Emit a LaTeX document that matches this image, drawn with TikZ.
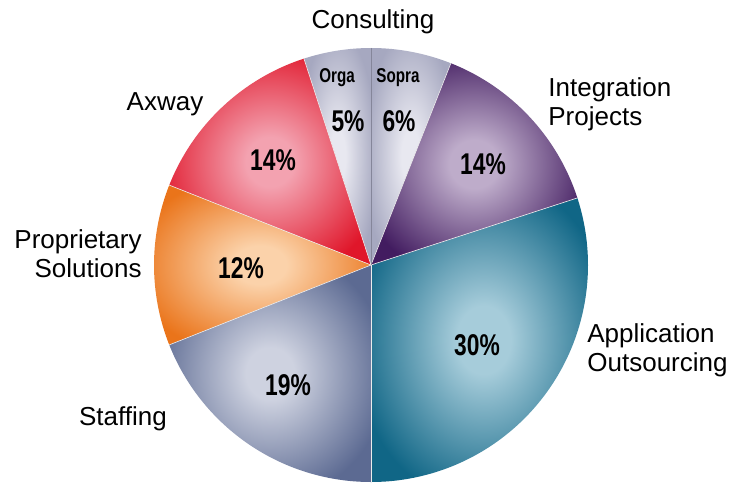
\documentclass[tikz,border=0pt]{standalone}
\usepackage[RGB]{xcolor}
\usepackage{fontspec}
\setmainfont{Liberation Sans}
\newfontfamily\pctfont[FakeStretch=0.76]{Liberation Sans}
\usepackage{tikz}
\definecolor{consEdge}{RGB}{166,168,192}
\definecolor{consMid}{RGB}{232,232,240}
\definecolor{intEdge}{RGB}{66,28,96}
\definecolor{intMid}{RGB}{190,172,202}
\definecolor{appEdge}{RGB}{16,102,134}
\definecolor{appMid}{RGB}{166,204,218}
\definecolor{stfEdge}{RGB}{92,106,146}
\definecolor{stfMid}{RGB}{206,210,224}
\definecolor{proEdge}{RGB}{234,116,26}
\definecolor{proMid}{RGB}{251,210,170}
\definecolor{axwEdge}{RGB}{224,22,42}
\definecolor{axwMid}{RGB}{243,162,176}
\colorlet{slicein}{white}
\colorlet{sliceout}{black}
\pgfdeclareradialshading[slicein,sliceout]{slicefill}{\pgfpoint{0bp}{0bp}}{%
  color(0bp)=(slicein); color(6bp)=(slicein); color(29bp)=(sliceout); color(50bp)=(sliceout)}
\newcommand{\pieradius}{217}
\newcommand{\pieslice}[4]{
    \colorlet{slicein}{#4}\colorlet{sliceout}{#3}
    \shade[shading=slicefill] (0,0) -- (#1:\pieradius)
        arc[start angle=#1, end angle=#2, radius=\pieradius] -- cycle;
}
\tikzset{
  slicename/.style={inner sep=0pt, font=\fontsize{13}{14.5}\selectfont},
  pct/.style={inner sep=0pt, font=\pctfont\bfseries\fontsize{15}{15}\selectfont},
  firm/.style={inner sep=0pt, font=\pctfont\bfseries\fontsize{10}{10}\selectfont}
}
\begin{document}
\begin{tikzpicture}[x=0.5pt,y=0.5pt]
\useasboundingbox (0,0) rectangle (733,483);
\clip (0,0) rectangle (733,483);
\begin{scope}[shift={(371,218)}]
    \foreach \a/\b/\edge/\mid in {68.4/90/consEdge/consMid, 90/108/consEdge/consMid,
        108/158.4/axwEdge/axwMid, 158.4/201.6/proEdge/proMid, 201.6/270/stfEdge/stfMid,
        270/378/appEdge/appMid, 18/68.4/intEdge/intMid}{
      \pieslice{\a}{\b}{\edge}{\mid}
    }
    \foreach \a in {18,68.4,108,158.4,201.6,270}{
      \draw[white!85!gray, line width=0.3pt] (0,0) -- (\a:\pieradius);
    }
    \draw[consEdge!80!black, line width=0.3pt] (0,0) -- (90:\pieradius);
\end{scope}
% slice names
\node[slicename] (consulting) at (373,461) {Consulting};
\node[slicename, anchor=west, align=left] (integration) at (548,379) {Integration\\Projects};
\node[slicename, anchor=west, align=left] (application) at (587,133) {Application\\Outsourcing};
\node[slicename] (staffing) at (123,64) {Staffing};
\node[slicename, anchor=east, align=right] (proprietary) at (142,229) {Proprietary\\Solutions};
\node[slicename] (axway) at (165,379) {Axway};
\node[firm] (orga) at (337,405) {Orga};
\node[firm] (sopra) at (398,405) {Sopra};
% shares
\node[pct] (orgapct) at (348,362) {5\%};
\node[pct] (soprapct) at (399,362) {6\%};
\node[pct] (intpct) at (483,319) {14\%};
\node[pct] (apppct) at (477,138) {30\%};
\node[pct] (stfpct) at (288,98) {19\%};
\node[pct] (propct) at (241,215) {12\%};
\node[pct] (axwpct) at (273,323) {14\%};
\end{tikzpicture}
\end{document}
